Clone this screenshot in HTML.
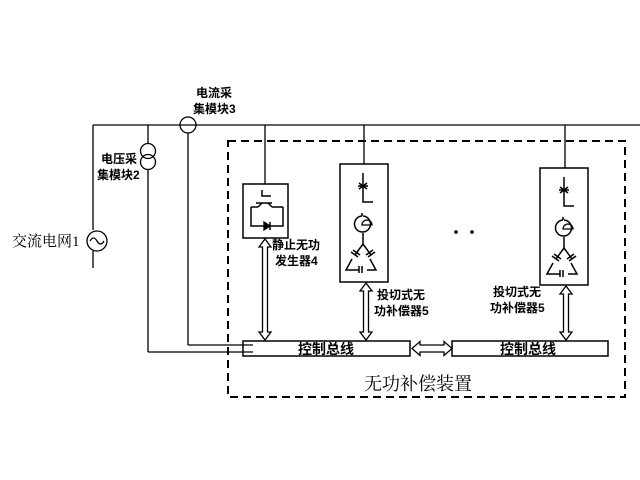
<!DOCTYPE html>
<html><head><meta charset="utf-8"><style>
html,body{margin:0;padding:0;background:#fff;}
svg{display:block;}
text{font-family:"Liberation Serif","Noto Serif CJK SC",serif;fill:#000;}
.b text{font-family:"Liberation Sans","Noto Sans CJK SC",sans-serif;font-weight:bold;}
</style></head><body>
<svg width="640" height="480" viewBox="0 0 640 480" xmlns="http://www.w3.org/2000/svg">
<g stroke="#000" stroke-width="1.3" fill="none">
<line x1="93" y1="125" x2="640" y2="125"/>
<line x1="93" y1="125" x2="93" y2="230"/>
<circle cx="97" cy="241" r="10"/>
<path d="M90,241 q3.5,-6 7,0 t7,0"/>
<line x1="93" y1="251" x2="93" y2="268"/>
<line x1="148" y1="125" x2="148" y2="143"/>
<circle cx="148" cy="151" r="7.5"/>
<circle cx="148" cy="162" r="7.5"/>
<line x1="148" y1="170" x2="148" y2="352"/>
<line x1="148" y1="352" x2="253" y2="352"/>
<circle cx="188" cy="125" r="8"/>
<line x1="188" y1="133" x2="188" y2="345"/>
<line x1="188" y1="345" x2="253" y2="345"/>
<rect x="228" y="141" width="397" height="256" stroke-width="2" stroke-dasharray="8,5"/>
<line x1="265" y1="125" x2="265" y2="184"/>
<rect x="243" y="184" width="45" height="54" stroke-width="1.5"/>
<path d="M262,190 v6 h9 M256,203 h16 M262,203 l-4,4 M268,203 l4,4 M251,207 h7 M272,207 h11 M251,207 v19 h32 v-19" stroke-width="1.5"/>
<polygon points="264,222 264,230 270,226" fill="#000"/>
<line x1="270" y1="222" x2="270" y2="230" stroke-width="1.5"/>
<line x1="364" y1="125" x2="364" y2="164"/>
<rect x="340" y="164" width="48" height="118" stroke-width="1.5"/>
<g id="comp" stroke-width="1.5">
<path d="M363,173 v29 h10"/>
<path d="M358,186 h10 M359,183 l8,6 M367,183 l-8,6"/>
<path d="M362,216 a8,8 0 1,0 1,0 M362,216 v-3"/>
<path d="M362,225 h10 a5,5 0 0,0 -10,0 z" stroke-width="1.3"/>
<path d="M363,233 v11"/>
<path d="M363,244 l-8,11 M352,259 l-6,11 h13 M367,270 h9 l-6,-11 M371,255 l-8,-11"/>
<path d="M351,252 l7,5 M353,250 l7,5 M375,252 l-7,5 M373,250 l-7,5 M359,266 v7 M362,266 v7"/>
</g>
<g transform="translate(201,4)" stroke-width="1.5">
<path d="M363,173 v29 h10"/>
<path d="M358,186 h10 M359,183 l8,6 M367,183 l-8,6"/>
<path d="M362,216 a8,8 0 1,0 1,0 M362,216 v-3"/>
<path d="M362,225 h10 a5,5 0 0,0 -10,0 z" stroke-width="1.3"/>
<path d="M363,233 v11"/>
<path d="M363,244 l-8,11 M352,259 l-6,11 h13 M367,270 h9 l-6,-11 M371,255 l-8,-11"/>
<path d="M351,252 l7,5 M353,250 l7,5 M375,252 l-7,5 M373,250 l-7,5 M359,266 v7 M362,266 v7"/>
</g>
<line x1="565" y1="125" x2="565" y2="168"/>
<rect x="540" y="168" width="48" height="117" stroke-width="1.5"/>
<rect x="243" y="341" width="167" height="15" stroke-width="1.5"/>
<rect x="452" y="341" width="156" height="15" stroke-width="1.5"/>
<path d="M265,239 l-6,8 h3.5 v85 h-3.5 l6,8 l6,-8 h-3.5 v-85 h3.5 z"/>
<path d="M366,283 l-6,8 h3.5 v41 h-3.5 l6,8 l6,-8 h-3.5 v-41 h3.5 z"/>
<path d="M566,286 l-6,8 h3.5 v38 h-3.5 l6,8 l6,-8 h-3.5 v-38 h3.5 z"/>
<path d="M412,348.5 l8,-7 v3.5 h24 v-3.5 l8,7 l-8,7 v-3.5 h-24 v3.5 z"/>
</g>
<circle cx="456" cy="232" r="1.8" fill="#000"/>
<circle cx="472" cy="232" r="1.8" fill="#000"/>
<g font-size="12" class="b">
<text x="196" y="97">电流采</text>
<text x="193" y="113">集模块3</text>
<text x="101" y="163">电压采</text>
<text x="97" y="179">集模块2</text>
<text x="272" y="249">静止无功</text>
<text x="275" y="265">发生器4</text>
<text x="377" y="299">投切式无</text>
<text x="374" y="315">功补偿器5</text>
<text x="493" y="296">投切式无</text>
<text x="490" y="312">功补偿器5</text>
<text x="298" y="354" font-size="14">控制总线</text>
<text x="500" y="354" font-size="14">控制总线</text>
</g>
<text x="12" y="246" font-size="15">交流电网1</text>
<text x="364" y="390" font-size="18">无功补偿装置</text>
</svg>
</body></html>
